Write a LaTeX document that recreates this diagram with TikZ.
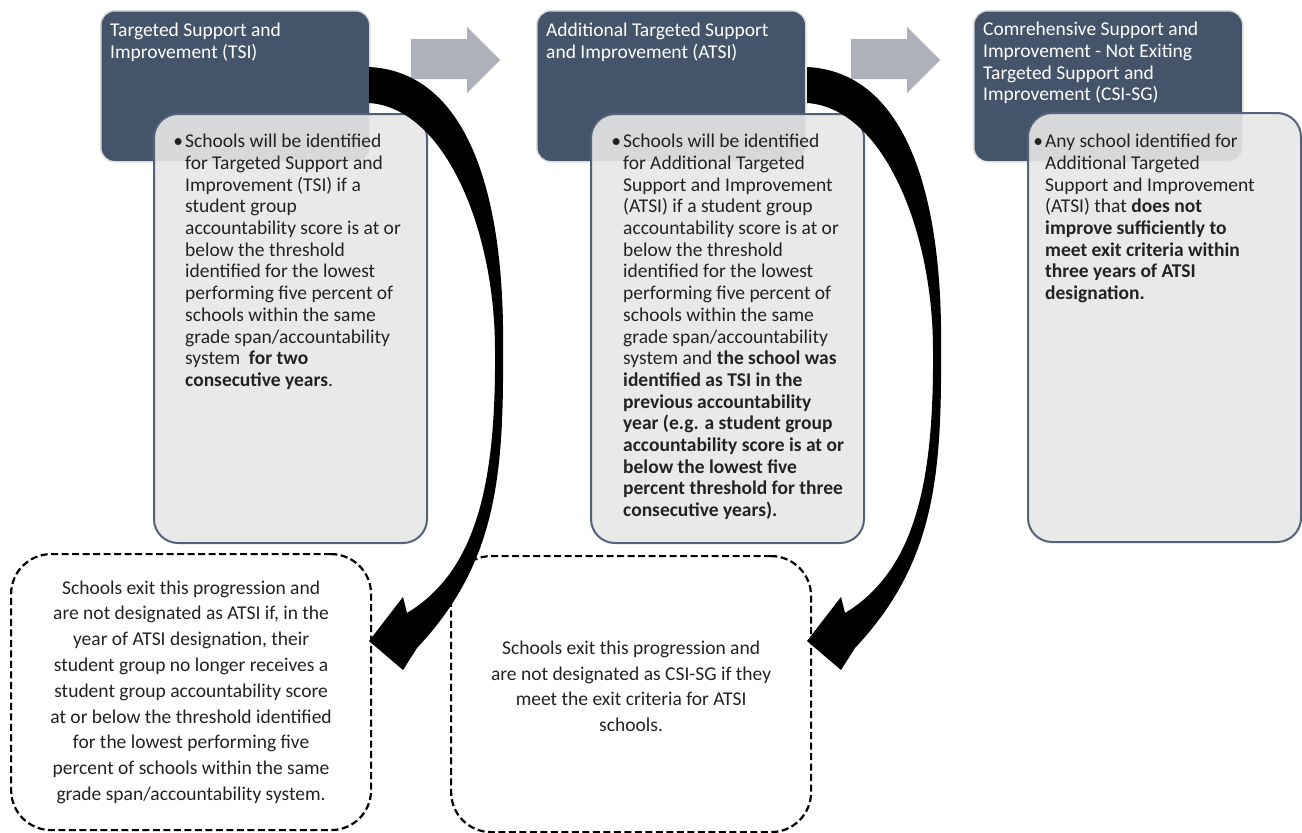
\documentclass[tikz,border=0pt]{standalone}
\usepackage{fontspec}
\setmainfont{Carlito}
\usepackage{xcolor}
\usepackage{tikz}
\usetikzlibrary{positioning}

\definecolor{slate}{HTML}{44546A}
\definecolor{rimgray}{HTML}{DADBDD}
\definecolor{paper}{HTML}{E7E7E7}
\definecolor{edgeblue}{HTML}{51627A}
\definecolor{stepgray}{HTML}{AEB1B9}
\definecolor{inkgray}{HTML}{222222}

\begin{document}
\begin{tikzpicture}[x=1pt,y=-1pt]
		\tikzstyle{headbox}=[rectangle, rounded corners=14pt, fill=slate, draw=rimgray, line width=1.5pt, minimum width=269pt, minimum height=151pt, anchor=north west, inner sep=0pt]
		\tikzstyle{infobox}=[rectangle, rounded corners=24pt, fill=paper, fill opacity=0.9, draw=edgeblue, line width=2pt, minimum width=273pt, minimum height=429pt, anchor=north west, inner sep=0pt]
		\tikzstyle{exitbox}=[rectangle, rounded corners=40pt, draw=black, dash pattern=on 7pt off 3.5pt, line width=2.2pt, minimum width=360pt, minimum height=276pt, anchor=north west, inner sep=0pt, text=inkgray, align=center, font=\fontsize{19.5}{25.8}\selectfont]
		\tikzstyle{headtext}=[text=white, align=left, anchor=north west, inner sep=0pt, font=\fontsize{19.5}{21.7}\selectfont]
		\tikzstyle{infotext}=[text=inkgray, align=left, anchor=north west, inner sep=0pt, font=\fontsize{19.5}{21.7}\selectfont]
		
		\useasboundingbox (0,0) rectangle (1302,833);
		
		% Header boxes
		\node at (100,10) [headbox] (head_1) {};
		\node at (536,10) [headbox] (head_2) {};
		\node at (973,10) [headbox] (head_3) {};
		\node at (110,23) [headtext] (head_1_text) {Targeted Support and\\Improvement (TSI)};
		\node at (546,23) [headtext] (head_2_text) {Additional Targeted Support\\and Improvement (ATSI)};
		\node at (983,22) [headtext] (head_3_text) {Comrehensive Support and\\Improvement - Not Exiting\\Targeted Support and\\Improvement (CSI-SG)};
		
		% Step arrows
		\foreach \dx in {0,440}
		\fill[stepgray] (411+\dx,39) -- (467+\dx,39) -- (467+\dx,27) -- (500+\dx,60) -- (467+\dx,93) -- (467+\dx,79) -- (411+\dx,79) -- cycle;
		
		% Detail boxes
		\node at (153,113) [infobox] (info_1) {};
		\node at (590,113) [infobox] (info_2) {};
		\node at (1027,112) [infobox] (info_3) {};
		
		\node at (185,134) [infotext] (info_1_text) {\llap{\textbullet\hspace{2pt}}Schools will be identified\\for Targeted Support and\\Improvement (TSI) if a\\student group\\accountability score is at or\\below the threshold\\identified for the lowest\\performing five percent of\\schools within the same\\grade span/accountability\\system~ \textbf{for two}\\\textbf{consecutive years}.};
		\node at (623,134) [infotext] (info_2_text) {\llap{\textbullet\hspace{2pt}}Schools will be identified\\for Additional Targeted\\Support and Improvement\\(ATSI) if a student group\\accountability score is at or\\below the threshold\\identified for the lowest\\performing five percent of\\schools within the same\\grade span/accountability\\system and \textbf{the school was}\\\textbf{identified as TSI in the}\\\textbf{previous accountability}\\\textbf{year (e.g. a student group}\\\textbf{accountability score is at or}\\\textbf{below the lowest five}\\\textbf{percent threshold for three}\\\textbf{consecutive years).}};
		\node at (1045,134) [infotext] (info_3_text) {\llap{\textbullet\hspace{2pt}}Any school identified for\\Additional Targeted\\Support and Improvement\\(ATSI) that \textbf{does not}\\\textbf{improve sufficiently to}\\\textbf{meet exit criteria within}\\\textbf{three years of ATSI}\\\textbf{designation.}};
		
		% Exit boxes
		\node at (10,553) [exitbox] (exit_1) {Schools exit this progression and\\are not designated as ATSI if, in the\\year of ATSI designation, their\\student group no longer receives a\\student group accountability score\\at or below the threshold identified\\for the lowest performing five\\percent of schools within the same\\grade span/accountability system.};
		\node at (450,555) [exitbox] (exit_2) {Schools exit this progression and\\are not designated as CSI-SG if they\\meet the exit criteria for ATSI\\schools.\\[-10pt]};
		
		% Curved exit arrows
		\foreach \dx in {0,438}
		\fill[black, xshift=\dx pt] (369,67) .. controls (470,72) and (505,200) .. (503,350)
		.. controls (504,480) and (495,565) .. (417,648)
		-- (403,670) -- (369,641) -- (403,597) -- (407,613)
		.. controls (478,570) and (496,480) .. (495,350)
		.. controls (495,230) and (445,108) .. (369,103) -- cycle;
		
\end{tikzpicture}
\end{document}
